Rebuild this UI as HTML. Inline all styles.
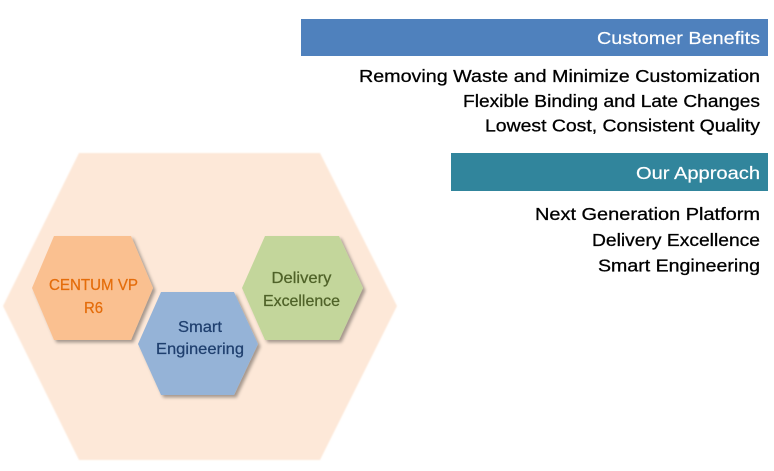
<!DOCTYPE html>
<html>
<head>
<meta charset="utf-8">
<style>
  html, body { margin: 0; padding: 0; background: #ffffff; }
  body { width: 774px; height: 471px; overflow: hidden; }
  svg { display: block; }
  text { font-family: "Liberation Sans", sans-serif; }
</style>
</head>
<body>
<svg width="774" height="471" viewBox="0 0 774 471" xmlns="http://www.w3.org/2000/svg">
  <defs>
    <filter id="soft" x="-5%" y="-5%" width="110%" height="110%">
      <feGaussianBlur stdDeviation="0.8"/>
    </filter>
    <filter id="shadow" x="-10%" y="-10%" width="125%" height="125%">
      <feDropShadow dx="2.5" dy="2.5" stdDeviation="1.6" flood-color="#000000" flood-opacity="0.35"/>
    </filter>
  </defs>

  <!-- Big background hexagon -->
  <polygon points="79,153 320,153 397,306 320,460 79,460 3,306" fill="#fde8d8" filter="url(#soft)"/>

  <!-- Orange hexagon -->
  <polygon points="54,236 131,236 153,288 131,340 54,340 32,288" fill="#fac090" filter="url(#shadow)"/>
  <!-- Green hexagon -->
  <polygon points="265,236 339,236 363,288 339,340 265,340 242,288" fill="#c3d69b" filter="url(#shadow)"/>
  <!-- Blue hexagon -->
  <polygon points="161,292 234,292 258,344 234,395 161,395 138,344" fill="#95b3d7" filter="url(#shadow)"/>

  <!-- Hexagon labels -->
  <g stroke-width="0.25">
  <text x="93.5" y="290" font-size="16" fill="#e46c0a" stroke="#e46c0a" text-anchor="middle" textLength="89" lengthAdjust="spacingAndGlyphs">CENTUM VP</text>
  <text x="93.5" y="313" font-size="16" fill="#e46c0a" stroke="#e46c0a" text-anchor="middle" textLength="19" lengthAdjust="spacingAndGlyphs">R6</text>

  <text x="301.5" y="283" font-size="16" fill="#4f6228" stroke="#4f6228" text-anchor="middle" textLength="60" lengthAdjust="spacingAndGlyphs">Delivery</text>
  <text x="301.5" y="306" font-size="16" fill="#4f6228" stroke="#4f6228" text-anchor="middle" textLength="77" lengthAdjust="spacingAndGlyphs">Excellence</text>

  <text x="200" y="332" font-size="16" fill="#1f3f6e" stroke="#1f3f6e" text-anchor="middle" textLength="44" lengthAdjust="spacingAndGlyphs">Smart</text>
  <text x="200" y="354" font-size="16" fill="#1f3f6e" stroke="#1f3f6e" text-anchor="middle" textLength="88" lengthAdjust="spacingAndGlyphs">Engineering</text>
  </g>

  <!-- Customer Benefits bar -->
  <rect x="301" y="19" width="467" height="37" fill="#4f81bd"/>
  <text x="760" y="44" font-size="17.7" fill="#ffffff" stroke="#ffffff" stroke-width="0.2" text-anchor="end" textLength="163" lengthAdjust="spacingAndGlyphs">Customer Benefits</text>

  <g stroke="#000000" stroke-width="0.3">
  <text x="760" y="82" font-size="17.7" fill="#000000" text-anchor="end" textLength="401" lengthAdjust="spacingAndGlyphs">Removing Waste and Minimize Customization</text>
  <text x="760" y="107" font-size="17.7" fill="#000000" text-anchor="end" textLength="297" lengthAdjust="spacingAndGlyphs">Flexible Binding and Late Changes</text>
  <text x="760" y="131.5" font-size="17.7" fill="#000000" text-anchor="end" textLength="275" lengthAdjust="spacingAndGlyphs">Lowest Cost, Consistent Quality</text>
  </g>

  <!-- Our Approach bar -->
  <rect x="451" y="153" width="317" height="38" fill="#31859c"/>
  <text x="760" y="179" font-size="17.7" fill="#ffffff" stroke="#ffffff" stroke-width="0.2" text-anchor="end" textLength="124" lengthAdjust="spacingAndGlyphs">Our Approach</text>

  <g stroke="#000000" stroke-width="0.3">
  <text x="760" y="220" font-size="17.7" fill="#000000" text-anchor="end" textLength="225" lengthAdjust="spacingAndGlyphs">Next Generation Platform</text>
  <text x="760" y="246" font-size="17.7" fill="#000000" text-anchor="end" textLength="168" lengthAdjust="spacingAndGlyphs">Delivery Excellence</text>
  <text x="760" y="271.5" font-size="17.7" fill="#000000" text-anchor="end" textLength="162" lengthAdjust="spacingAndGlyphs">Smart Engineering</text>
  </g>
</svg>
</body>
</html>
